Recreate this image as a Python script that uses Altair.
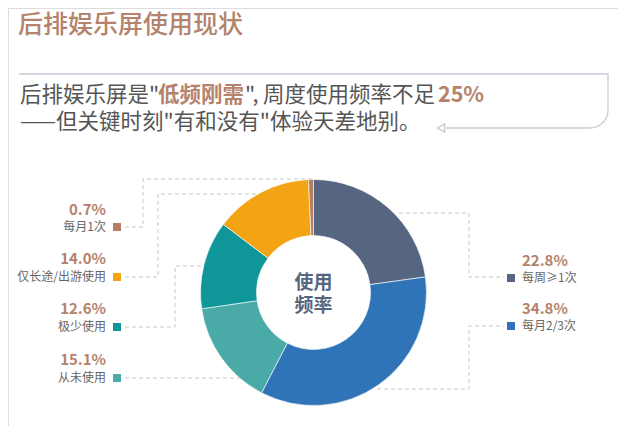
import altair as alt
import pandas as pd
import numpy as np

# ---------------- data ----------------
categories = ["每周≥1次", "每月2/3次", "从未使用", "极少使用", "仅长途/出游使用", "每月1次"]
values = [22.8, 34.8, 15.1, 12.6, 14.0, 0.7]
colors = ["#566580", "#2e74b6", "#4aaaa8", "#0e9699", "#f2a414", "#b57d62"]

title_text = "后排娱乐屏使用现状"
center_lines = ["使用", "频率"]
sub1_parts = ["后排娱乐屏是\"", "低频刚需", "\",", "周度使用频率不足", "25%"]
sub2_text = "——但关键时刻\"有和没有\"体验天差地别。"

# ---------------- layout (page pixels) ----------------
OFF = 8
def P(v):
    return v - OFF

CX, CY = 313.5, 292.5
R_OUT, R_IN = 113, 57
FONT = "Noto Sans CJK SC"
BROWN = "#b5826b"

side = ["right", "right", "left", "left", "left", "left"]
value_y = [261, 309, 360, 309, 259, 210]
label_y = [278, 326, 378, 327, 277, 227]
leader_pts = [
    [(399, 213), (469, 213), (469, 277), (504, 277)],
    [(377, 389), (469, 389), (469, 326), (504, 326)],
    [(125, 378), (243, 378)],
    [(125, 327), (175, 327), (175, 266), (205, 266)],
    [(125, 277), (158, 277), (158, 194), (257, 194)],
    [(125, 227), (143, 227), (143, 179), (312, 179)],
]

color_enc = alt.Color("cat:N", scale=alt.Scale(domain=categories, range=colors), legend=None)

# pie
pie_df = pd.DataFrame({"cat": categories, "val": values, "idx": list(range(len(values)))})
arc = alt.Chart(pie_df).mark_arc(innerRadius=R_IN, outerRadius=R_OUT, stroke="white", strokeWidth=0.6).encode(
    theta=alt.Theta("val:Q", stack=True),
    order=alt.Order("idx:Q"),
    color=color_enc,
    x=alt.value(P(CX)),
    y=alt.value(P(CY)),
)

# leader lines
rows = []
for c, pts in zip(categories, leader_pts):
    for i, (x, y) in enumerate(pts):
        rows.append({"cat": c, "i": i, "lx": P(x), "ly": P(y)})
lead_df = pd.DataFrame(rows)
leaders = alt.Chart(lead_df).mark_line(strokeDash=[4, 3], color="#c4c7cc", strokeWidth=1).encode(
    x=alt.X("lx:Q", scale=None, axis=None),
    y=alt.Y("ly:Q", scale=None, axis=None),
    detail="cat:N",
    order="i:Q",
)

# labels
lab_rows = []
for c, v, s, vy, ly in zip(categories, values, side, value_y, label_y):
    lab_rows.append({
        "cat": c, "pct": f"{v:.1f}%", "side": s,
        "tx": P(106) if s == "left" else P(522),
        "sx": P(117) if s == "left" else P(511),
        "vy": P(vy), "ly": P(ly),
    })
lab_df = pd.DataFrame(lab_rows)
left_df = lab_df[lab_df.side == "left"]
right_df = lab_df[lab_df.side == "right"]

def label_layers(df, align):
    val = alt.Chart(df).mark_text(align=align, baseline="middle", font=FONT, fontSize=15,
                                  fontWeight="bold", color=BROWN).encode(
        x=alt.X("tx:Q", scale=None, axis=None), y=alt.Y("vy:Q", scale=None, axis=None), text="pct:N")
    lab = alt.Chart(df).mark_text(align=align, baseline="middle", font=FONT, fontSize=12,
                                  color="#666666").encode(
        x=alt.X("tx:Q", scale=None, axis=None), y=alt.Y("ly:Q", scale=None, axis=None), text="cat:N")
    sq = alt.Chart(df).mark_square(size=64, opacity=1).encode(
        x=alt.X("sx:Q", scale=None, axis=None), y=alt.Y("ly:Q", scale=None, axis=None), color=color_enc)
    return [val, lab, sq]

one = pd.DataFrame({"d": [0]})

def txt(t, x, y, size, color, weight="normal", align="left"):
    return alt.Chart(one).mark_text(text=t, align=align, baseline="middle", font=FONT, fontSize=size,
                                    fontWeight=weight, color=color).encode(x=alt.value(P(x)), y=alt.value(P(y)))

title = txt(title_text, 18, 25, 25, BROWN, weight=500)
sub_y1, sub_y2 = 96, 123
SF = 21.5
sub_layers = [
    txt(sub1_parts[0], 20, sub_y1, SF, "#555555"),
    txt(sub1_parts[1], 158, sub_y1, SF, BROWN, weight="bold"),
    txt(sub1_parts[2], 245, sub_y1, SF, "#555555"),
    txt(sub1_parts[3], 263, sub_y1, SF, "#555555"),
    txt(sub1_parts[4], 438, sub_y1, SF, BROWN, weight="bold"),
    txt(sub2_text, 20, sub_y2, SF, "#555555"),
]
center = [
    txt(center_lines[0], CX, 283, 19, "#56657e", weight="bold", align="center"),
    txt(center_lines[1], CX, 306, 19, "#56657e", weight="bold", align="center"),
]

# callout box path
box_pts = [(19, 74), (608, 74), (608, 110)]
for t in np.linspace(0, np.pi / 2, 10)[1:]:
    box_pts.append((590 + 18 * np.cos(t), 110 + 18 * np.sin(t)))
box_pts.append((446, 128))
box_df = pd.DataFrame({"i": range(len(box_pts)), "bx": [P(p[0]) for p in box_pts], "by": [P(p[1]) for p in box_pts]})
box = alt.Chart(box_df).mark_line(color="#c5ccd6", strokeWidth=1.3).encode(
    x=alt.X("bx:Q", scale=None, axis=None), y=alt.Y("by:Q", scale=None, axis=None), order="i:Q")
arrow = alt.Chart(one).mark_point(shape="triangle-left", filled=False, size=70, color="#c5ccd6",
                                  strokeWidth=1.3, opacity=1).encode(x=alt.value(P(441)), y=alt.value(P(128)))

layers = [leaders, arc, box, arrow, title] + sub_layers + center + label_layers(left_df, "right") + label_layers(right_df, "left")

chart = alt.layer(*layers).properties(
    width=610, height=418, padding=0, autosize=alt.AutoSizeParams(type="none")
).configure_view(strokeWidth=0, stroke="transparent").configure(background="white")

chart.save("out.html", embed_options={"renderer": "svg", "actions": False})
